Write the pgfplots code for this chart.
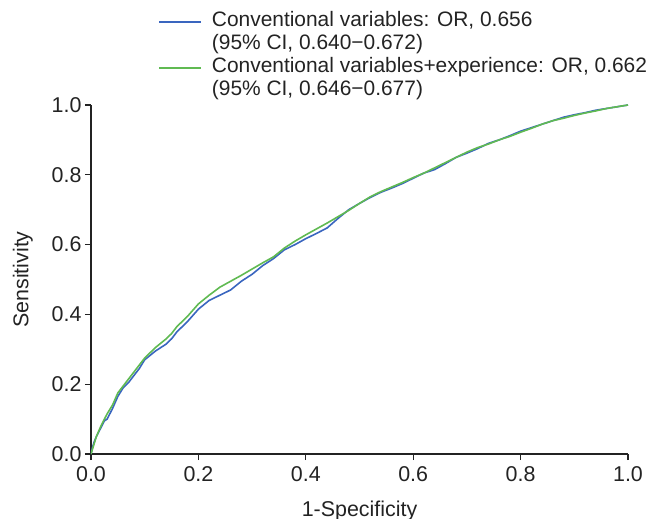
\documentclass[border=0pt]{standalone}
\usepackage{fontspec}
\setmainfont{Liberation Sans}
\usepackage{pgfplots}
\pgfplotsset{compat=1.18}
\definecolor{rocblue}{RGB}{58,102,191}
\definecolor{rocgreen}{RGB}{96,186,82}
\definecolor{axgray}{RGB}{35,35,35}

\begin{document}
\begin{tikzpicture}
\path[use as bounding box] (-91bp,-65bp) rectangle (560bp,454bp);
\begin{axis}[
  scale only axis,
  width=537bp, height=349bp,
  xmin=0, xmax=1, ymin=0, ymax=1,
  axis x line*=bottom, axis y line*=left,
  axis line style={axgray, line width=1.2bp},
  tick style={axgray, line width=1.2bp},
  tick align=outside,
  major tick length=6bp,
  xtick={0,0.2,...,1.0}, ytick={0,0.2,...,1.0},
  minor tick num=0,
  /pgf/number format/assume math mode=true,
  /pgf/number format/fixed, /pgf/number format/fixed zerofill,
  /pgf/number format/precision=1,
  ticklabel style={font=\fontsize{21.5}{23}\selectfont, text=axgray},
  xticklabel style={yshift=-3bp},
  xlabel={1-Specificity}, ylabel={Sensitivity},
  label style={font=\fontsize{21.5}{23}\selectfont, text=axgray},
  xlabel style={yshift=-12bp},
  ylabel style={yshift=12bp},
  legend cell align=left,
  legend style={draw=none, fill=none, inner sep=0pt,
    font=\fontsize{21}{23}\selectfont,
    nodes={inner sep=0pt, text height=16.5bp, text depth=6.5bp},
    column sep=10bp,
    at={(rel axis cs:0.125,1.272)}, anchor=north west,
    row sep=0pt, text=axgray},
  legend image code/.code={\draw[#1] (0bp,0bp) -- (42bp,0bp);},
]
\addplot[rocblue, line width=1.6bp] coordinates {
(0,0) (0.003,0.02) (0.006,0.035) (0.01,0.05) (0.015,0.065) (0.02,0.08)
(0.025,0.095) (0.03,0.10) (0.04,0.13) (0.05,0.165) (0.06,0.19) (0.07,0.205)
(0.08,0.225) (0.09,0.245) (0.10,0.27) (0.12,0.295) (0.14,0.315) (0.15,0.33)
(0.16,0.35) (0.18,0.38) (0.20,0.415) (0.22,0.44) (0.24,0.455) (0.26,0.47)
(0.28,0.495) (0.30,0.515) (0.32,0.54) (0.34,0.56) (0.36,0.585) (0.38,0.60)
(0.40,0.617) (0.42,0.632) (0.44,0.648) (0.46,0.675) (0.48,0.70) (0.50,0.718)
(0.52,0.735) (0.54,0.75) (0.56,0.762) (0.58,0.775) (0.60,0.79) (0.62,0.805)
(0.64,0.815) (0.66,0.832) (0.68,0.85) (0.70,0.862) (0.72,0.875) (0.74,0.89)
(0.76,0.90) (0.78,0.912) (0.80,0.925) (0.82,0.935) (0.84,0.945) (0.86,0.955)
(0.88,0.965) (0.90,0.972) (0.92,0.978) (0.94,0.985) (0.96,0.99) (0.98,0.995) (1,1)
};
\addlegendentry{Conventional variables: OR, 0.656}
\addlegendimage{empty legend}
\addlegendentry{(95\% CI, 0.640−0.672)}
\addplot[rocgreen, line width=1.6bp] coordinates {
(0,0) (0.003,0.015) (0.006,0.03) (0.01,0.05) (0.015,0.068) (0.02,0.085)
(0.025,0.10) (0.03,0.115) (0.04,0.14) (0.05,0.175) (0.06,0.195) (0.07,0.215)
(0.08,0.235) (0.09,0.255) (0.10,0.275) (0.12,0.305) (0.14,0.33) (0.15,0.345)
(0.16,0.365) (0.18,0.395) (0.20,0.43) (0.22,0.455) (0.24,0.478) (0.26,0.495)
(0.28,0.512) (0.30,0.53) (0.32,0.548) (0.34,0.565) (0.36,0.59) (0.38,0.61)
(0.40,0.628) (0.42,0.645) (0.44,0.662) (0.46,0.68) (0.48,0.698) (0.50,0.718)
(0.52,0.737) (0.54,0.752) (0.56,0.765) (0.58,0.778) (0.60,0.792) (0.62,0.805)
(0.64,0.82) (0.66,0.835) (0.68,0.85) (0.70,0.865) (0.72,0.878) (0.74,0.888)
(0.76,0.90) (0.78,0.91) (0.80,0.922) (0.82,0.933) (0.84,0.945) (0.86,0.955)
(0.88,0.962) (0.90,0.97) (0.92,0.977) (0.94,0.983) (0.96,0.99) (0.98,0.995) (1,1)
};
\addlegendentry{Conventional variables+experience: OR, 0.662}
\addlegendimage{empty legend}
\addlegendentry{(95\% CI, 0.646−0.677)}
\end{axis}
\end{tikzpicture}
\end{document}
